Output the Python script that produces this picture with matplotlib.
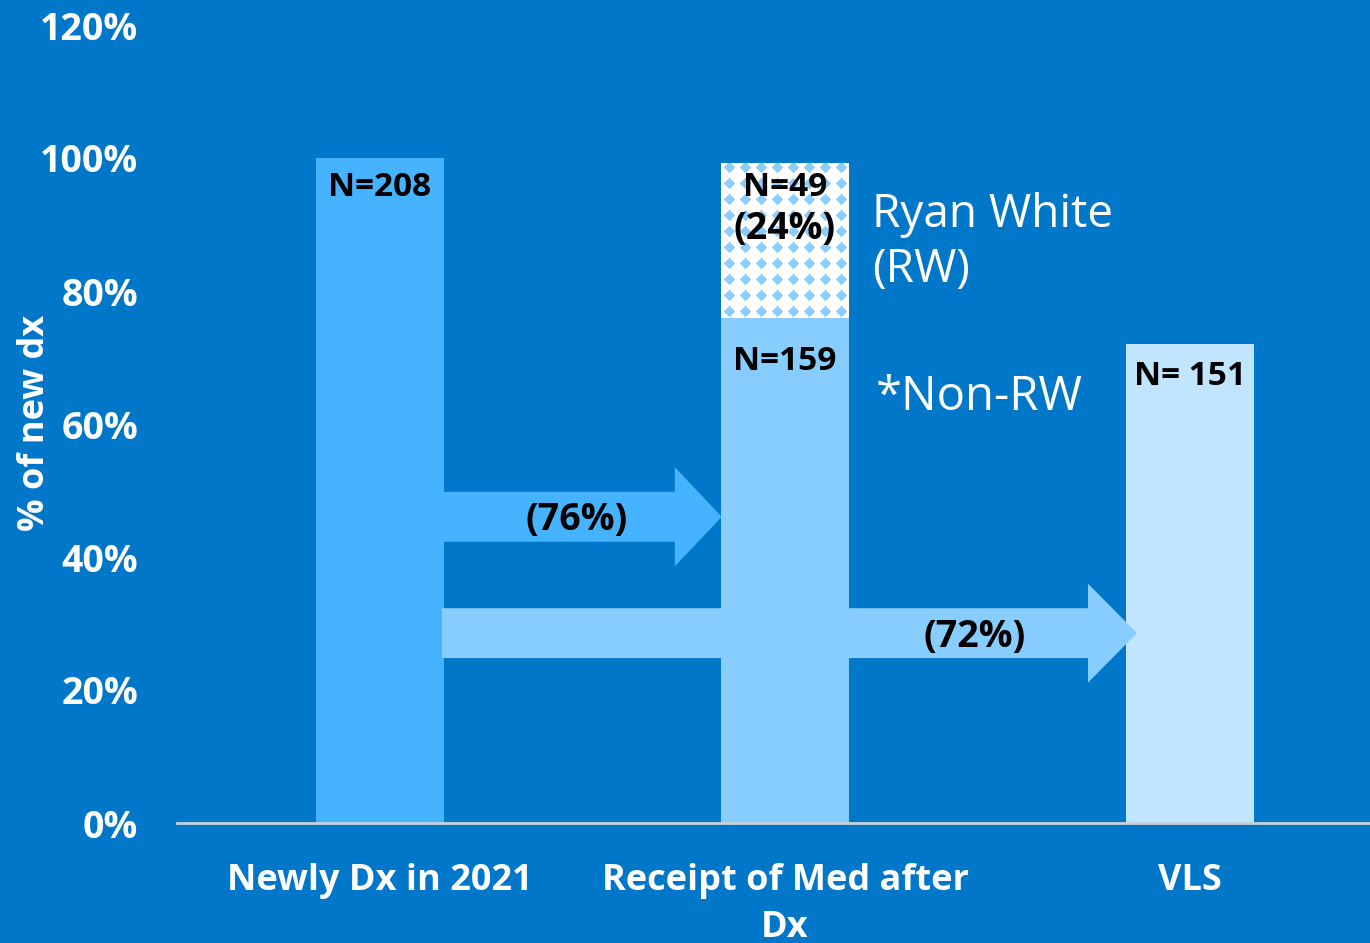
import numpy as np
import matplotlib
matplotlib.use("Agg")
import matplotlib.pyplot as plt
from matplotlib.patches import Polygon

plt.rcParams['font.family'] = ['Open Sans', 'DejaVu Sans']

# data
categories = ['Newly Dx in 2021', 'Receipt of Med after\nDx', 'VLS']
pct_base = [100, 76, 72]          # main bar heights (%)
pct_rw = [0, 23.3, 0]             # Ryan White part stacked on bar 2
n_labels = ['N=208', 'N=159', 'N= 151']
rw_n = 'N=49'
rw_pct = '(24%)'
arrow_labels = ['(76%)', '(72%)']
yticks = [0, 20, 40, 60, 80, 100, 120]

bg = '#0077C8'
bar_colors = ['#45B3FF', '#87CDFF', '#C2E5FF']

fig = plt.figure(figsize=(13.7, 9.43), dpi=100, facecolor=bg)
ax = fig.add_axes([177 / 1370, 1 - 823 / 943, 1193 / 1370, 798 / 943])
ax.set_facecolor(bg)

x = np.arange(len(categories))
w = 0.314
bars = ax.bar(x, pct_base, width=w, color=bar_colors, zorder=2)
rw = ax.bar(x[1], pct_rw[1], bottom=pct_base[1], width=w, color='white', zorder=2)

# diamond pattern on the RW segment
gx = np.arange(x[1] - w / 2 + 0.019, x[1] + w / 2, 0.0395)
gy = np.arange(pct_base[1] + 1.0, pct_base[1] + pct_rw[1] + 2, 2.406)
GX, GY = np.meshgrid(gx, gy)
sc = ax.scatter(GX.ravel(), GY.ravel(), marker='D', s=34, color='#87CDFF',
                linewidths=0, zorder=3)
sc.set_clip_path(rw[0])


def arrow(x0, x1, xtip, yc, hb, hh, color):
    pts = [(x0, yc - hb), (x1, yc - hb), (x1, yc - hh), (xtip, yc),
           (x1, yc + hh), (x1, yc + hb), (x0, yc + hb)]
    ax.add_patch(Polygon(pts, closed=True, color=color, lw=0, zorder=4))


arrow(0.157, 0.728, 0.844, 46.05, 3.75, 7.45, bar_colors[0])
arrow(0.153, 1.748, 1.869, 28.55, 3.75, 7.45, bar_colors[1])

tk = dict(ha='center', va='center', fontweight='bold', color='black', zorder=6)
ax.text(x[0], 95.6, n_labels[0], fontsize=24, **tk)
ax.text(x[1], 69.4, n_labels[1], fontsize=24, **tk)
ax.text(x[2], 67.2, n_labels[2], fontsize=24, **tk)
ax.text(x[1], 95.6, rw_n, fontsize=24, **tk)
ax.text(x[1], 89.3, rw_pct, fontsize=27, **tk)
ax.text(0.486, 45.6, arrow_labels[0], fontsize=27, **tk)
ax.text(1.469, 28.0, arrow_labels[1], fontsize=27, **tk)

ax.text(1.215, 87.3, 'Ryan White\n(RW)', fontsize=33, color='white',
        ha='left', va='center', linespacing=1.27, zorder=6)
ax.text(1.225, 64.0, '*Non-RW', fontsize=34, color='white',
        ha='left', va='center', zorder=6)

ax.set_xlim(-0.5012, 2.4444)
ax.set_ylim(0, 120)
ax.set_yticks(yticks)
ax.set_yticklabels([f'{v}%' for v in yticks], fontsize=27, fontweight='bold',
                   color='white')
ax.set_xticks(x)
ax.set_xticklabels(categories, fontsize=26, fontweight='bold', color='white',
                   linespacing=1.4)
ax.tick_params(axis='y', length=0, pad=28)
ax.tick_params(axis='x', length=0, pad=29)
for s in ['top', 'right', 'left']:
    ax.spines[s].set_visible(False)
ax.spines['bottom'].set_color('#C8D0D8')
ax.spines['bottom'].set_linewidth(2)
ax.spines['bottom'].set_zorder(5)

fig.text(35 / 1370, 1 - 423 / 943, '% of new dx', rotation=90, fontsize=26,
         fontweight='bold', color='white', ha='center', va='center')

fig.savefig('out.png', dpi=100, facecolor=bg)
